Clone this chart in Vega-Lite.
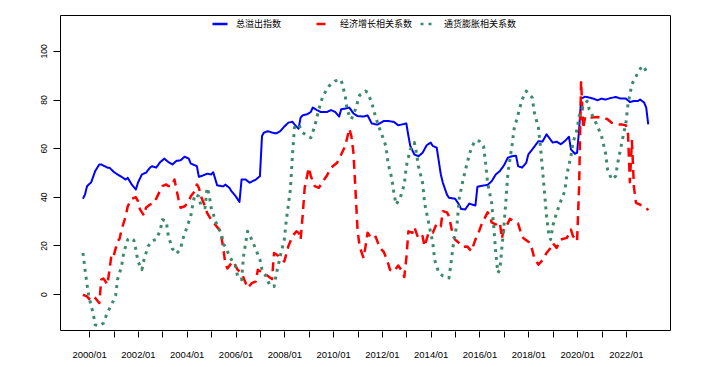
{
  "$schema": "https://vega.github.io/schema/vega-lite/v6.json",
  "width": 610,
  "height": 315,
  "autosize": {"type": "none"},
  "padding": {"left": 60, "top": 15, "right": 43, "bottom": 37},
  "background": "white",
  "config": {
    "view": {"stroke": "black", "strokeWidth": 1},
    "axis": {"domain": false, "grid": false, "tickColor": "black", "labelColor": "black", "labelFont": "Liberation Sans", "title": null}
  },
  "datasets": {
    "blue": [
      {"d":"1999-10","v":39.2},{"d":"1999-11","v":41},{"d":"1999-12","v":44.4},{"d":"2000-02","v":46},{"d":"2000-04","v":50.6},{"d":"2000-06","v":53.3},{"d":"2000-07","v":53.3},{"d":"2000-10","v":52},{"d":"2000-11","v":52},
      {"d":"2001-01","v":50.3},{"d":"2001-03","v":49.2},{"d":"2001-05","v":48.2},{"d":"2001-07","v":47.1},{"d":"2001-08","v":47.8},{"d":"2001-10","v":45},{"d":"2001-12","v":43},
      {"d":"2002-01","v":45.8},{"d":"2002-03","v":49.2},{"d":"2002-05","v":49.9},{"d":"2002-07","v":52},{"d":"2002-08","v":52.6},{"d":"2002-10","v":52},{"d":"2002-12","v":54.3},
      {"d":"2003-02","v":55.7},{"d":"2003-04","v":54.3},{"d":"2003-06","v":53.3},{"d":"2003-08","v":54.8},{"d":"2003-10","v":55},{"d":"2003-12","v":56.5},
      {"d":"2004-02","v":55.7},{"d":"2004-03","v":53.7},{"d":"2004-06","v":52.6},{"d":"2004-07","v":48.2},{"d":"2004-09","v":48.8},{"d":"2004-11","v":49.5},
      {"d":"2005-01","v":49.2},{"d":"2005-02","v":50.1},{"d":"2005-04","v":44.7},{"d":"2005-07","v":44.3},{"d":"2005-08","v":45},{"d":"2005-10","v":43.7},{"d":"2005-11","v":42.3},
      {"d":"2006-01","v":40.3},{"d":"2006-03","v":37.9},{"d":"2006-04","v":47.1},{"d":"2006-06","v":47.1},{"d":"2006-08","v":45.8},{"d":"2006-11","v":47.1},
      {"d":"2007-01","v":48.5},{"d":"2007-02","v":65},{"d":"2007-03","v":66.4},{"d":"2007-05","v":67},{"d":"2007-07","v":66.4},{"d":"2007-09","v":66.1},{"d":"2007-11","v":67},
      {"d":"2008-01","v":68.9},{"d":"2008-03","v":70.5},{"d":"2008-05","v":70.9},{"d":"2008-06","v":69.8},{"d":"2008-08","v":68},{"d":"2008-09","v":72.6},{"d":"2008-10","v":73.5},{"d":"2008-12","v":73.9},
      {"d":"2009-02","v":74.9},{"d":"2009-03","v":76.7},{"d":"2009-05","v":75.7},{"d":"2009-07","v":74.9},{"d":"2009-10","v":74.9},{"d":"2009-12","v":75.7},
      {"d":"2010-02","v":74.9},{"d":"2010-04","v":73},{"d":"2010-05","v":76},{"d":"2010-07","v":76.3},{"d":"2010-09","v":76.7},{"d":"2010-11","v":74.3},
      {"d":"2011-01","v":73.2},{"d":"2011-04","v":73},{"d":"2011-06","v":73.5},{"d":"2011-08","v":70.2},{"d":"2011-10","v":69.8},{"d":"2011-11","v":69.8},
      {"d":"2012-02","v":71.2},{"d":"2012-04","v":71.2},{"d":"2012-07","v":70.8},{"d":"2012-09","v":69.4},{"d":"2012-11","v":69.8},
      {"d":"2013-01","v":70.2},{"d":"2013-02","v":65},{"d":"2013-03","v":60.9},{"d":"2013-05","v":57.4},{"d":"2013-07","v":56.7},{"d":"2013-09","v":58.1},{"d":"2013-11","v":61.2},
      {"d":"2014-01","v":62.3},{"d":"2014-02","v":60.9},{"d":"2014-04","v":60.2},{"d":"2014-06","v":49.2},{"d":"2014-07","v":45.8},{"d":"2014-09","v":40.9},{"d":"2014-10","v":39.6},
      {"d":"2015-01","v":39.2},{"d":"2015-03","v":36.8},{"d":"2015-04","v":35},{"d":"2015-06","v":34.8},{"d":"2015-08","v":37.2},{"d":"2015-11","v":36.4},{"d":"2015-12","v":44.1},
      {"d":"2016-02","v":44.5},{"d":"2016-05","v":44.9},{"d":"2016-07","v":46.4},{"d":"2016-09","v":49.2},{"d":"2016-11","v":50.6},
      {"d":"2017-01","v":52.9},{"d":"2017-03","v":56.1},{"d":"2017-05","v":56.7},{"d":"2017-07","v":56.9},{"d":"2017-08","v":52.6},{"d":"2017-10","v":52},{"d":"2017-12","v":54},
      {"d":"2018-01","v":57.4},{"d":"2018-04","v":60.6},{"d":"2018-06","v":62.9},{"d":"2018-08","v":62.7},{"d":"2018-10","v":65.7},
      {"d":"2019-01","v":62.3},{"d":"2019-03","v":62.7},{"d":"2019-05","v":61.6},{"d":"2019-07","v":62.9},{"d":"2019-09","v":64.7},{"d":"2019-10","v":59.5},{"d":"2019-12","v":57.7},
      {"d":"2020-01","v":58.1},{"d":"2020-02","v":67.8},{"d":"2020-03","v":80.4},{"d":"2020-05","v":81.2},{"d":"2020-07","v":80.8},{"d":"2020-09","v":80.4},{"d":"2020-11","v":79.7},
      {"d":"2021-01","v":80.4},{"d":"2021-03","v":80},{"d":"2021-05","v":80.5},{"d":"2021-08","v":81.1},{"d":"2021-10","v":80.5},
      {"d":"2022-01","v":80.4},{"d":"2022-03","v":79},{"d":"2022-05","v":79.4},{"d":"2022-07","v":79.4},{"d":"2022-08","v":80},{"d":"2022-10","v":78.8},{"d":"2022-11","v":76.7},{"d":"2022-12","v":69.8}
    ],
    "red": [
      {"d":"1999-10","v":-0.3},{"d":"1999-12","v":-1},{"d":"2000-01","v":-2},{"d":"2000-03","v":-0.7},{"d":"2000-04","v":-1.6},{"d":"2000-06","v":-3.7},{"d":"2000-07","v":5.9},{"d":"2000-08","v":6.4},{"d":"2000-09","v":5.2},{"d":"2000-10","v":3.8},{"d":"2000-11","v":10},{"d":"2000-12","v":16.2},
      {"d":"2001-01","v":15.5},{"d":"2001-03","v":21.7},{"d":"2001-04","v":22.7},{"d":"2001-05","v":26.5},{"d":"2001-07","v":32},{"d":"2001-08","v":36.1},{"d":"2001-10","v":39.2},{"d":"2001-12","v":39.8},
      {"d":"2002-01","v":38.2},{"d":"2002-02","v":34.8},{"d":"2002-04","v":32.3},{"d":"2002-05","v":35.5},{"d":"2002-07","v":36.8},{"d":"2002-09","v":37.5},{"d":"2002-11","v":41},
      {"d":"2003-01","v":44.4},{"d":"2003-03","v":45.1},{"d":"2003-04","v":44.4},{"d":"2003-06","v":44.6},{"d":"2003-07","v":47.1},{"d":"2003-08","v":43},{"d":"2003-09","v":38.9},{"d":"2003-10","v":35.5},{"d":"2003-12","v":36.1},
      {"d":"2004-02","v":37.8},{"d":"2004-03","v":40.2},{"d":"2004-05","v":42.3},{"d":"2004-06","v":45.1},{"d":"2004-07","v":43.7},{"d":"2004-08","v":40.2},{"d":"2004-10","v":36.1},{"d":"2004-11","v":33.4},
      {"d":"2005-01","v":30.6},{"d":"2005-03","v":28.6},{"d":"2005-05","v":26.5},{"d":"2005-06","v":23.8},{"d":"2005-07","v":19},{"d":"2005-08","v":12.5},{"d":"2005-09","v":10.5},{"d":"2005-11","v":12.8},{"d":"2005-12","v":13.4},
      {"d":"2006-02","v":10},{"d":"2006-04","v":8.7},{"d":"2006-07","v":2.5},{"d":"2006-09","v":4.5},{"d":"2006-11","v":5.2},{"d":"2006-12","v":10},
      {"d":"2007-02","v":8.9},{"d":"2007-04","v":8},{"d":"2007-07","v":6.2},{"d":"2007-08","v":16.9},{"d":"2007-10","v":15.8},{"d":"2007-12","v":14.1},
      {"d":"2008-01","v":13.4},{"d":"2008-03","v":19.6},{"d":"2008-05","v":23.8},{"d":"2008-07","v":25.8},{"d":"2008-08","v":25.2},{"d":"2008-09","v":22.4},{"d":"2008-10","v":32},{"d":"2008-11","v":43.7},
      {"d":"2009-01","v":52},{"d":"2009-02","v":48.5},{"d":"2009-04","v":44.4},{"d":"2009-06","v":43.7},{"d":"2009-08","v":46.4},{"d":"2009-10","v":48.8},{"d":"2009-12","v":52},
      {"d":"2010-03","v":54},{"d":"2010-05","v":57.4},{"d":"2010-07","v":60.9},{"d":"2010-09","v":68},{"d":"2010-10","v":65},{"d":"2010-11","v":58.1},{"d":"2010-12","v":43},
      {"d":"2011-01","v":26.5},{"d":"2011-02","v":19.6},{"d":"2011-04","v":14.8},{"d":"2011-05","v":19.6},{"d":"2011-06","v":25.2},{"d":"2011-08","v":22.7},{"d":"2011-10","v":23.5},{"d":"2011-12","v":19},
      {"d":"2012-02","v":17.2},{"d":"2012-04","v":12.8},{"d":"2012-05","v":10},{"d":"2012-07","v":9.3},{"d":"2012-09","v":11.7},{"d":"2012-11","v":9.3},{"d":"2012-12","v":7},
      {"d":"2013-01","v":14.8},{"d":"2013-02","v":25.8},{"d":"2013-04","v":25.2},{"d":"2013-05","v":27.6},{"d":"2013-07","v":22.7},{"d":"2013-09","v":23.8},{"d":"2013-10","v":19.6},{"d":"2013-12","v":25.4},
      {"d":"2014-02","v":25.2},{"d":"2014-04","v":29},{"d":"2014-06","v":27.9},{"d":"2014-07","v":34.1},{"d":"2014-09","v":33.6},{"d":"2014-10","v":32},{"d":"2014-12","v":23.8},
      {"d":"2015-01","v":22.4},{"d":"2015-03","v":21},{"d":"2015-05","v":19.4},{"d":"2015-07","v":19.6},{"d":"2015-09","v":17.6},{"d":"2015-11","v":22.4},{"d":"2015-12","v":24},
      {"d":"2016-02","v":28.6},{"d":"2016-05","v":33.6},{"d":"2016-06","v":32.7},{"d":"2016-07","v":29.5},{"d":"2016-09","v":28.6},{"d":"2016-11","v":29.5},{"d":"2016-12","v":22.7},
      {"d":"2017-01","v":27.2},{"d":"2017-02","v":27.6},{"d":"2017-04","v":30.9},{"d":"2017-06","v":29.9},{"d":"2017-08","v":29},{"d":"2017-10","v":23.5},{"d":"2017-11","v":22.7},
      {"d":"2018-01","v":21.5},{"d":"2018-02","v":21},{"d":"2018-04","v":14.8},{"d":"2018-06","v":12.1},{"d":"2018-08","v":13.9},{"d":"2018-10","v":16.9},{"d":"2018-12","v":19},
      {"d":"2019-01","v":21},{"d":"2019-03","v":19},{"d":"2019-05","v":22.4},{"d":"2019-08","v":23.1},{"d":"2019-10","v":26.5},{"d":"2019-11","v":23.8},
      {"d":"2020-01","v":21.7},{"d":"2020-02","v":45},{"d":"2020-03","v":87.7},{"d":"2020-04","v":68},{"d":"2020-05","v":73},{"d":"2020-08","v":72.6},{"d":"2020-11","v":72.8},
      {"d":"2021-02","v":72.6},{"d":"2021-04","v":71.9},{"d":"2021-06","v":70.5},{"d":"2021-09","v":69.8},{"d":"2021-11","v":69.8},
      {"d":"2022-01","v":69.4},{"d":"2022-02","v":66},{"d":"2022-03","v":46},{"d":"2022-04","v":63},{"d":"2022-05","v":44},{"d":"2022-06","v":37.5},{"d":"2022-09","v":36.4},{"d":"2022-11","v":35.5},{"d":"2022-12","v":34.5}
    ],
    "green": [
      {"d":"1999-10","v":16.9},{"d":"1999-11","v":10},{"d":"1999-12","v":3.8},{"d":"2000-01","v":-1.6},{"d":"2000-03","v":-7.8},{"d":"2000-04","v":-12.7},{"d":"2000-06","v":-13.1},{"d":"2000-08","v":-12},{"d":"2000-10","v":-7.6},{"d":"2000-12","v":-4.4},
      {"d":"2001-02","v":-0.7},{"d":"2001-03","v":5.9},{"d":"2001-05","v":11.4},{"d":"2001-06","v":16.9},{"d":"2001-08","v":22.4},{"d":"2001-09","v":23.1},{"d":"2001-11","v":22.1},{"d":"2001-12","v":18.3},
      {"d":"2002-01","v":13.4},{"d":"2002-03","v":10},{"d":"2002-04","v":14.1},{"d":"2002-06","v":19.6},{"d":"2002-08","v":22},{"d":"2002-10","v":22.4},{"d":"2002-12","v":26.2},
      {"d":"2003-01","v":30.6},{"d":"2003-03","v":29.9},{"d":"2003-04","v":23.8},{"d":"2003-06","v":18.6},{"d":"2003-08","v":16.6},{"d":"2003-10","v":18.6},{"d":"2003-11","v":22.4},
      {"d":"2004-01","v":27.2},{"d":"2004-03","v":32},{"d":"2004-04","v":36.8},{"d":"2004-05","v":41},{"d":"2004-07","v":40.2},{"d":"2004-08","v":36.1},{"d":"2004-10","v":35.5},{"d":"2004-11","v":43.7},{"d":"2004-12","v":41},
      {"d":"2005-01","v":35.5},{"d":"2005-03","v":30.6},{"d":"2005-04","v":27.9},{"d":"2005-06","v":25.2},{"d":"2005-07","v":21},{"d":"2005-09","v":17.6},{"d":"2005-10","v":15.5},
      {"d":"2006-01","v":11.4},{"d":"2006-02","v":7.3},{"d":"2006-04","v":5.9},{"d":"2006-05","v":15.5},{"d":"2006-06","v":21},{"d":"2006-07","v":25.8},{"d":"2006-09","v":22.4},{"d":"2006-11","v":18.3},
      {"d":"2007-01","v":14.1},{"d":"2007-02","v":10},{"d":"2007-04","v":7.3},{"d":"2007-06","v":3.4},{"d":"2007-08","v":3.1},{"d":"2007-09","v":8},{"d":"2007-11","v":15.5},
      {"d":"2008-01","v":22.4},{"d":"2008-02","v":30.6},{"d":"2008-04","v":43},{"d":"2008-05","v":56.7},{"d":"2008-06","v":68.5},{"d":"2008-08","v":69.8},{"d":"2008-10","v":66.4},
      {"d":"2009-02","v":64.3},{"d":"2009-04","v":69.1},{"d":"2009-06","v":76},{"d":"2009-08","v":81.5},{"d":"2009-11","v":85.6},
      {"d":"2010-02","v":87.7},{"d":"2010-05","v":88.1},{"d":"2010-07","v":81.5},{"d":"2010-08","v":75.3},{"d":"2010-10","v":71.9},{"d":"2010-12","v":76},
      {"d":"2011-02","v":81.8},{"d":"2011-05","v":83.5},{"d":"2011-06","v":82.9},{"d":"2011-08","v":78.8},{"d":"2011-10","v":72.6},{"d":"2011-12","v":67.8},
      {"d":"2012-03","v":60.9},{"d":"2012-04","v":54},{"d":"2012-06","v":47.1},{"d":"2012-07","v":41},{"d":"2012-08","v":36.8},{"d":"2012-10","v":39.6},{"d":"2012-12","v":45.1},
      {"d":"2013-01","v":52.6},{"d":"2013-03","v":59.5},{"d":"2013-05","v":62.3},{"d":"2013-06","v":58.1},{"d":"2013-07","v":52.6},{"d":"2013-09","v":45.8},{"d":"2013-10","v":37.5},{"d":"2013-12","v":29.3},
      {"d":"2014-02","v":21},{"d":"2014-03","v":14.1},{"d":"2014-05","v":8.7},{"d":"2014-07","v":7.5},{"d":"2014-09","v":7},{"d":"2014-10","v":6.6},{"d":"2014-11","v":12.8},{"d":"2014-12","v":19.6},
      {"d":"2015-02","v":29.3},{"d":"2015-03","v":38.9},{"d":"2015-05","v":47.1},{"d":"2015-07","v":54},{"d":"2015-09","v":60.2},{"d":"2015-11","v":63.2},
      {"d":"2016-01","v":62.9},{"d":"2016-03","v":60.9},{"d":"2016-04","v":54},{"d":"2016-05","v":45.8},{"d":"2016-07","v":37.5},{"d":"2016-08","v":27.9},{"d":"2016-09","v":16.9},{"d":"2016-10","v":8.7},{"d":"2016-11","v":10},{"d":"2016-12","v":19},
      {"d":"2017-01","v":27.9},{"d":"2017-02","v":38.9},{"d":"2017-03","v":49.9},{"d":"2017-05","v":60.9},{"d":"2017-06","v":67.8},{"d":"2017-08","v":73.9},{"d":"2017-10","v":80.1},{"d":"2017-12","v":83.5},
      {"d":"2018-03","v":80.8},{"d":"2018-04","v":74.6},{"d":"2018-06","v":68.5},{"d":"2018-07","v":60.9},{"d":"2018-08","v":51.3},{"d":"2018-09","v":41.6},{"d":"2018-10","v":32},{"d":"2018-11","v":25.2},{"d":"2018-12","v":22.4},
      {"d":"2019-01","v":27.9},{"d":"2019-03","v":33.4},{"d":"2019-05","v":38.2},{"d":"2019-07","v":42.3},{"d":"2019-08","v":49.2},{"d":"2019-10","v":56.7},{"d":"2019-11","v":62.3},
      {"d":"2020-01","v":67.8},{"d":"2020-02","v":73.2},{"d":"2020-04","v":77.4},{"d":"2020-06","v":79.4},{"d":"2020-07","v":76},{"d":"2020-09","v":72.6},{"d":"2020-11","v":69.1},
      {"d":"2021-01","v":65},{"d":"2021-03","v":58.1},{"d":"2021-04","v":51.3},{"d":"2021-06","v":47.1},{"d":"2021-08","v":48.5},{"d":"2021-09","v":54},{"d":"2021-11","v":62.3},
      {"d":"2022-01","v":70.5},{"d":"2022-02","v":78.1},{"d":"2022-04","v":86.3},{"d":"2022-07","v":91.1},{"d":"2022-09","v":93.9},{"d":"2022-10","v":93.2},{"d":"2022-12","v":90.4}
    ]
  },
  "encoding": {
    "x": {
      "field": "d", "type": "temporal",
      "scale": {"type": "utc", "domain": [{"year": 1998, "month": 10, "date": 22, "utc": true}, {"year": 2023, "month": 10, "date": 23, "utc": true}]},
      "axis": {
        "values": [
          {"year": 2000, "month": 1, "date": 1, "utc": true}, {"year": 2001, "month": 1, "date": 1, "utc": true},
          {"year": 2002, "month": 1, "date": 1, "utc": true}, {"year": 2003, "month": 1, "date": 1, "utc": true},
          {"year": 2004, "month": 1, "date": 1, "utc": true}, {"year": 2005, "month": 1, "date": 1, "utc": true},
          {"year": 2006, "month": 1, "date": 1, "utc": true}, {"year": 2007, "month": 1, "date": 1, "utc": true},
          {"year": 2008, "month": 1, "date": 1, "utc": true}, {"year": 2009, "month": 1, "date": 1, "utc": true},
          {"year": 2010, "month": 1, "date": 1, "utc": true}, {"year": 2011, "month": 1, "date": 1, "utc": true},
          {"year": 2012, "month": 1, "date": 1, "utc": true}, {"year": 2013, "month": 1, "date": 1, "utc": true},
          {"year": 2014, "month": 1, "date": 1, "utc": true}, {"year": 2015, "month": 1, "date": 1, "utc": true},
          {"year": 2016, "month": 1, "date": 1, "utc": true}, {"year": 2017, "month": 1, "date": 1, "utc": true},
          {"year": 2018, "month": 1, "date": 1, "utc": true}, {"year": 2019, "month": 1, "date": 1, "utc": true},
          {"year": 2020, "month": 1, "date": 1, "utc": true}, {"year": 2021, "month": 1, "date": 1, "utc": true},
          {"year": 2022, "month": 1, "date": 1, "utc": true}
        ],
        "labelExpr": "utcyear(datum.value) % 2 == 0 ? utcFormat(datum.value, '%Y/%m') : ''",
        "labelOverlap": false,
        "tickSize": 6,
        "offset": 1,
        "labelPadding": 12,
        "labelFontSize": 9.5
      }
    },
    "y": {
      "field": "v", "type": "quantitative",
      "scale": {"domain": [-14.8, 114.8], "nice": false, "zero": false},
      "axis": {"values": [0, 20, 40, 60, 80, 100], "labelAngle": -90, "labelAlign": "center", "labelBaseline": "bottom", "tickSize": 7, "labelPadding": 5, "labelFontSize": 8.5}
    }
  },
  "layer": [
    {
      "data": {"name": "blue"},
      "mark": {"type": "line", "strokeWidth": 2, "strokeJoin": "round"},
      "encoding": {
        "color": {"datum": "总溢出指数", "type": "nominal",
          "scale": {"domain": ["总溢出指数", "经济增长相关系数", "通货膨胀相关系数"], "range": ["#0000FF", "#FF0000", "#3B8B6B"]},
          "legend": {"orient": "none", "legendX": 151, "legendY": 0, "direction": "horizontal", "columns": 3, "gridAlign": "all", "title": null, "symbolType": "stroke", "symbolSize": 225, "symbolStrokeWidth": 2.5, "labelFont": "Noto Sans CJK SC", "labelFontSize": 9, "labelOffset": 7, "columnPadding": 2, "labelLimit": 200, "padding": 0}},
        "strokeDash": {"datum": "总溢出指数", "type": "nominal",
          "scale": {"domain": ["总溢出指数", "经济增长相关系数", "通货膨胀相关系数"], "range": [[1, 0], [9, 6], [3, 5]]},
          "legend": {"orient": "none", "legendX": 151, "legendY": 0, "direction": "horizontal", "columns": 3, "gridAlign": "all", "title": null, "symbolType": "stroke", "symbolSize": 225, "symbolStrokeWidth": 2.5, "labelFont": "Noto Sans CJK SC", "labelFontSize": 9, "labelOffset": 7, "columnPadding": 2, "labelLimit": 200, "padding": 0}}
      }
    },
    {
      "data": {"name": "red"},
      "mark": {"type": "line", "strokeWidth": 2.5, "strokeCap": "butt", "strokeJoin": "round"},
      "encoding": {
        "color": {"datum": "经济增长相关系数", "type": "nominal"},
        "strokeDash": {"datum": "经济增长相关系数", "type": "nominal"}
      }
    },
    {
      "data": {"name": "green"},
      "mark": {"type": "line", "strokeWidth": 3, "strokeCap": "butt", "strokeJoin": "round"},
      "encoding": {
        "color": {"datum": "通货膨胀相关系数", "type": "nominal"},
        "strokeDash": {"datum": "通货膨胀相关系数", "type": "nominal"}
      }
    }
  ]
}
